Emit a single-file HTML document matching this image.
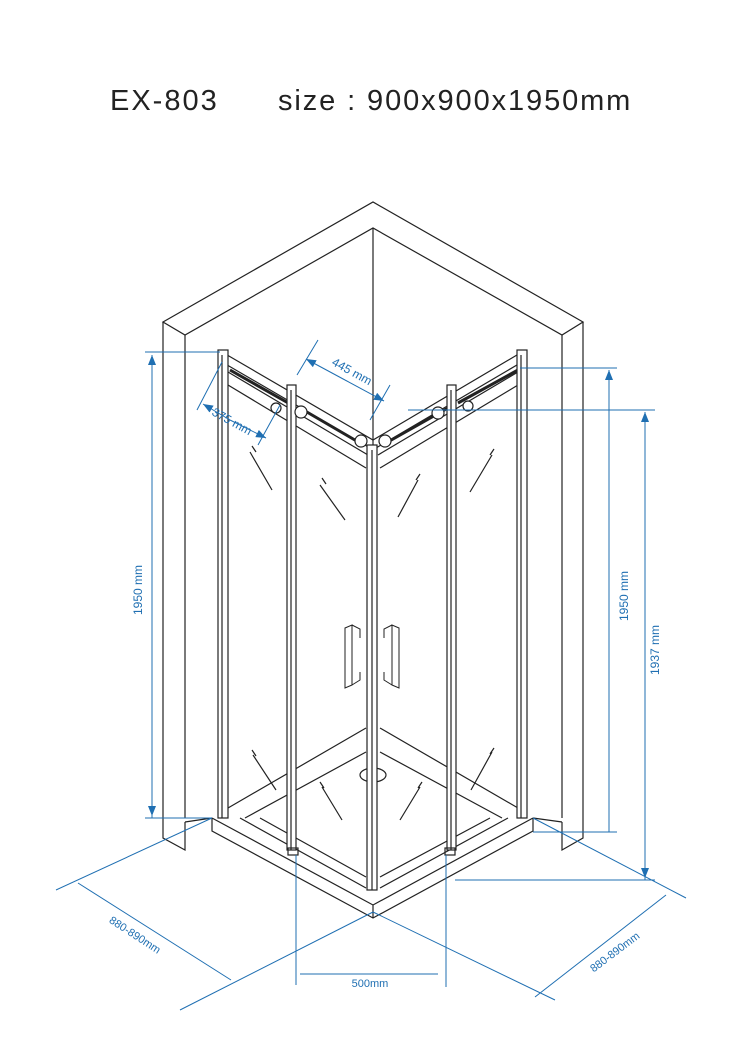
<!DOCTYPE html>
<html><head><meta charset="utf-8"><style>
html,body{margin:0;padding:0;background:#fff;width:745px;height:1053px;overflow:hidden}
svg{display:block}
</style></head><body>
<svg width="745" height="1053" viewBox="0 0 745 1053" xmlns="http://www.w3.org/2000/svg" font-family="Liberation Sans, sans-serif">
<defs>
<marker id="a" markerWidth="10" markerHeight="8" refX="10" refY="4" orient="auto" markerUnits="userSpaceOnUse"><path d="M0,0 L10,4 L0,8 Z" fill="#1f6fb2"/></marker>
</defs>
<text x="110" y="110" font-size="29" fill="#222" letter-spacing="2">EX-803</text>
<text x="278" y="110" font-size="29" fill="#222" letter-spacing="1.9">size : 900x900x1950mm</text>

<g fill="none" stroke="#222" stroke-width="1.2">
<path d="M163,322 L373,202 L583,322 L562,335 L373,228 L185,335 Z"/>
<path d="M373,228 L373,445"/>
<path d="M163,322 L163,838 L185,850 L185,822 M185,335 L185,818"/>
<path d="M583,322 L583,838 L562,850 L562,822 M562,335 L562,818"/>
<path d="M185,822 L212,818 M562,822 L533,818"/>
<path d="M212,818 L373,905 L533,818 M212,818 L212,831 L373,918 L533,831 L533,818 M373,905 L373,918"/>
<path d="M228,808 L366,728 M380,728 L518,808"/>
<path d="M245,818 L366,752 M380,752 L502,818"/>
<path d="M260,818 L366,877 M380,877 L490,818"/>
<path d="M240,818 L366,888 M380,888 L508,818"/>
<ellipse cx="373" cy="775" rx="13" ry="7"/>
<path d="M250,452 L272,490 M252,446 L256,452 M320,485 L345,520 M322,478 L326,484 M418,480 L398,517 M420,474 L416,480 M492,455 L470,492 M494,449 L490,455"/>
<path d="M253,755 L276,790 M252,750 L256,756 M322,787 L342,820 M320,782 L324,788 M420,787 L400,820 M422,782 L418,788 M492,752 L471,790 M494,748 L490,754"/>
<path d="M222,352 L373,440 L522,352"/>
<path d="M222,362 L370,448 M376,448 L522,362"/>
<path d="M228,372 L368,455 M378,455 L518,372"/>
<path d="M228,385 L366,468 M380,468 L518,385"/>
<path d="M230,370 L290,404 M300,408 L360,443" stroke-width="3"/>
<path d="M386,443 L448,408 M458,403 L518,370" stroke-width="3"/>
<rect x="218" y="350" width="10" height="468" fill="#fff"/>
<path d="M222,355 L222,818"/>
<rect x="517" y="350" width="10" height="468" fill="#fff"/>
<path d="M521,355 L521,818"/>
<rect x="287" y="385" width="9" height="465" fill="#fff"/>
<path d="M291,390 L291,850"/>
<rect x="447" y="385" width="9" height="465" fill="#fff"/>
<path d="M451,390 L451,850"/>
<rect x="367" y="445" width="10" height="445" fill="#fff"/>
<path d="M372,450 L372,890"/>
<circle cx="276" cy="408" r="5" fill="#fff"/><circle cx="301" cy="412" r="6" fill="#fff"/>
<circle cx="361" cy="441" r="6" fill="#fff"/><circle cx="385" cy="441" r="6" fill="#fff"/>
<circle cx="438" cy="413" r="6" fill="#fff"/><circle cx="468" cy="406" r="5" fill="#fff"/>
<path d="M345,628 L352,625 L352,685 L345,688 Z M352,625 L360,629 L360,638 M352,685 L360,680 L360,672" stroke-width="1"/>
<path d="M399,628 L392,625 L392,685 L399,688 Z M392,625 L384,629 L384,638 M392,685 L384,680 L384,672" stroke-width="1"/>
<rect x="288" y="848" width="10" height="7"/><rect x="445" y="848" width="10" height="7"/>
</g>

<g stroke="#1f6fb2" stroke-width="1" fill="none">
<path d="M145,352 L220,352 M145,818 L212,818"/>
<path d="M152,818 L152,355" marker-end="url(#a)"/><path d="M152,355 L152,816" marker-end="url(#a)"/>
<path d="M520,368 L617,368 M533,832 L617,832"/>
<path d="M609,832 L609,370" marker-end="url(#a)"/>
<path d="M408,410 L655,410 M455,880 L655,880"/>
<path d="M645,880 L645,412" marker-end="url(#a)"/><path d="M645,412 L645,878" marker-end="url(#a)"/>
<path d="M297,375 L318,340 M370,420 L390,385"/>
<path d="M345,380 L306,359" marker-end="url(#a)"/><path d="M345,380 L384,401" marker-end="url(#a)"/>
<path d="M197,410 L222,362 M258,445 L280,405"/>
<path d="M230,420 L203,404" marker-end="url(#a)"/><path d="M230,420 L266,438" marker-end="url(#a)"/>
<path d="M212,818 L56,890 M373,912 L180,1010 M78,883 L231,980"/>
<path d="M533,818 L686,898 M373,912 L555,1000 M666,895 L535,997"/>
<path d="M296,855 L296,985 M446,855 L446,987 M300,974 L438,974"/>
</g>
<g fill="#1f6fb2" font-size="12">
<text transform="translate(142,590) rotate(-90)" text-anchor="middle">1950 mm</text>
<text transform="translate(628,596) rotate(-90)" text-anchor="middle">1950 mm</text>
<text transform="translate(659,650) rotate(-90)" text-anchor="middle">1937 mm</text>
<text transform="translate(350,375) rotate(29)" text-anchor="middle">445 mm</text>
<text transform="translate(230,425) rotate(29)" text-anchor="middle">375 mm</text>
<text transform="translate(133,938) rotate(33)" text-anchor="middle" font-size="11">880-890mm</text>
<text transform="translate(617,955) rotate(-37)" text-anchor="middle" font-size="11">880-890mm</text>
<text x="370" y="987" text-anchor="middle" font-size="11">500mm</text>
</g>
</svg>
</body></html>
